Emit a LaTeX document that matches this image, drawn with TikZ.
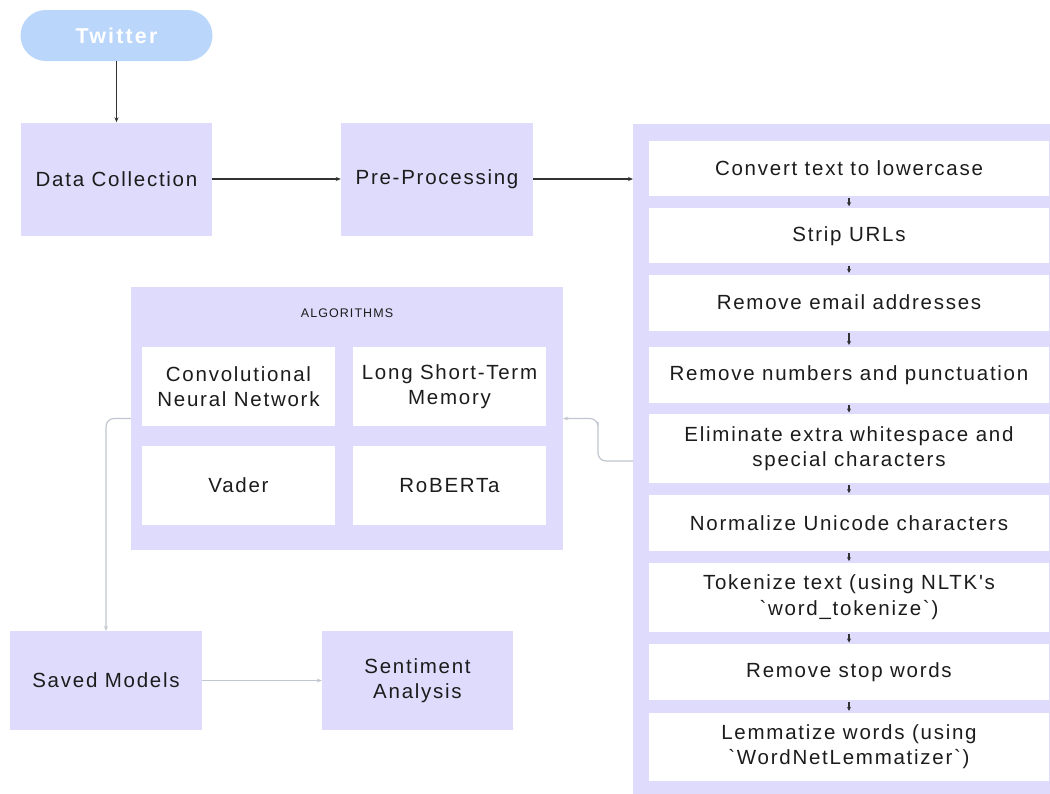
\documentclass[tikz,border=0pt]{standalone}
\usepackage{fontspec}
\newfontfamily\txtfont{Liberation Sans}[LetterSpace=8.5]
\newfontfamily\boldfam{Liberation Sans}[LetterSpace=10]
\usetikzlibrary{arrows.meta}
\definecolor{lav}{RGB}{223,219,252}
\definecolor{twblue}{RGB}{186,214,251}
\definecolor{darkarr}{RGB}{50,50,50}
\definecolor{lightarr}{RGB}{192,199,209}
\definecolor{txt}{RGB}{28,28,28}
\tikzset{
  lbox/.style={fill=lav, draw=none, inner sep=0pt, text=txt, align=center,
    font=\txtfont\fontsize{20.5}{25.5}\selectfont},
  wbox/.style={fill=white, draw=none, inner sep=0pt, text=txt, align=center,
    font=\txtfont\fontsize{20.5}{25.5}\selectfont},
  pill/.style={fill=twblue, draw=none, rounded corners=25.5pt, inner sep=0pt,
    text=white, font=\boldfam\bfseries\fontsize{21.5}{24}\selectfont},
  darkline/.style={draw=darkarr, line width=1.1pt, -{Stealth[length=5pt,width=4pt]}},
  lightline/.style={draw=lightarr, line width=1.2pt, -{Stealth[length=5pt,width=4pt]}},
  tinyarr/.style={draw=darkarr, line width=1.2pt, -{Stealth[length=4pt,width=4pt]},
    shorten <=2pt, shorten >=1.5pt},
}
\begin{document}
\begin{tikzpicture}[x=1pt,y=-1pt]
\useasboundingbox[fill=white] (0,0) rectangle (1050,793);
\clip (0,0) rectangle (1050,793);
% top row
\node[pill, minimum width=192pt, minimum height=51pt] (tw) at (116.5,35.5) {Twitter};
\node[lbox, minimum width=191pt, minimum height=113pt] (dc) at (116.5,179) {Data Collection};
\node[lbox, minimum width=192pt, minimum height=113pt] (pp) at (437,179) {Pre-Processing};
% pre-processing panel
\node[lbox, anchor=north west, minimum width=440pt, minimum height=700pt] (pre) at (633,124) {};
\node[wbox, minimum width=400pt, minimum height=55.5pt] (s1) at (849,168.3) {Convert text to lowercase};
\node[wbox, minimum width=400pt, minimum height=55.5pt] (s2) at (849,235.7) {Strip URLs};
\node[wbox, minimum width=400pt, minimum height=56pt] (s3) at (849,302.5) {Remove email addresses};
\node[wbox, minimum width=400pt, minimum height=56pt] (s4) at (849,374.7) {Remove numbers and punctuation};
\node[wbox, minimum width=400pt, minimum height=69pt] (s5) at (849,448.7) {Eliminate extra whitespace and\\special characters};
\node[wbox, minimum width=400pt, minimum height=56pt] (s6) at (849,522.8) {Normalize Unicode characters};
\node[wbox, minimum width=400pt, minimum height=69pt] (s7) at (849,597.3) {Tokenize text (using NLTK's\\`word\_tokenize`)};
\node[wbox, minimum width=400pt, minimum height=56pt] (s8) at (849,672.2) {Remove stop words};
\node[wbox, minimum width=400pt, minimum height=68pt] (s9) at (849,746.5) {Lemmatize words (using\\`WordNetLemmatizer`)};
\foreach \a/\b in {s1/s2,s2/s3,s3/s4,s4/s5,s5/s6,s6/s7,s7/s8,s8/s9}
  \draw[tinyarr] (\a.south) -- (\b.north);
% algorithms panel
\node[lbox, minimum width=432pt, minimum height=263pt] (alg) at (347,418.5) {};
\node[text=txt, font=\txtfont\fontsize{12.5}{14}\selectfont, inner sep=0pt] (algt) at (347,313) {ALGORITHMS};
\node[wbox, minimum width=193pt, minimum height=79pt] (cnn) at (238.5,386.5) {Convolutional\\Neural Network};
\node[wbox, minimum width=193pt, minimum height=79pt] (lstm) at (449.5,386.5) {Long Short-Term\\Memory};
\node[wbox, minimum width=193pt, minimum height=79pt] (vader) at (238.5,485.5) {Vader};
\node[wbox, minimum width=193pt, minimum height=79pt] (rob) at (449.5,485.5) {RoBERTa};
% bottom row
\node[lbox, minimum width=192pt, minimum height=99pt] (sm) at (106,680.5) {Saved Models};
\node[lbox, minimum width=191pt, minimum height=99pt] (sa) at (417.5,680.5) {Sentiment\\Analysis};
% connectors
\draw[darkline] (tw.south) -- (dc.north);
\draw[darkline] (dc.east) -- (pp.west);
\draw[darkline] (pp.east) -- (pp.east -| pre.west);
\draw[lightline, rounded corners=8pt] (pre.north west) ++(0,337) -| (598,430) |- (alg.east);
\draw[lightline, rounded corners=8pt] (alg.west) -| (sm.north);
\draw[lightline] (sm.east) -- (sa.west);
\end{tikzpicture}
\end{document}
